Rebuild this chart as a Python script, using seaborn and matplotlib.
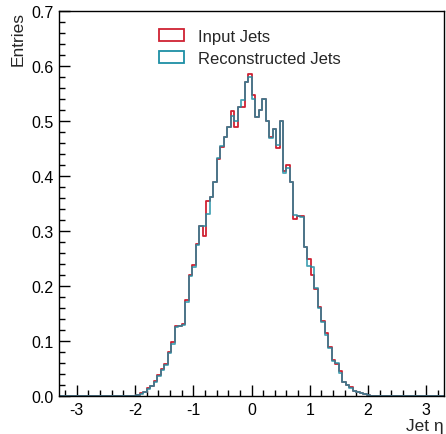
import numpy as np
import pandas as pd
import matplotlib
matplotlib.use("Agg")
import matplotlib.pyplot as plt
import seaborn as sns
from matplotlib.patches import Patch
from matplotlib.ticker import MultipleLocator, FormatStrFormatter

# ---- data (bin contents, bins of width 0.06 starting at eta = -2.10) ----
bin_start = -2.10
bin_width = 0.06
x_range = (-3.3, 3.3)

input_jets = [
    0.000, 0.001, 0.002, 0.005, 0.008, 0.015, 0.019, 0.028, 0.038, 0.050,
    0.059, 0.081, 0.098, 0.128, 0.128, 0.131, 0.174, 0.220, 0.238, 0.277,
    0.310, 0.291, 0.355, 0.362, 0.390, 0.432, 0.453, 0.471, 0.489, 0.518,
    0.489, 0.525, 0.525, 0.571, 0.586, 0.548, 0.507, 0.520, 0.540, 0.500,
    0.471, 0.485, 0.452, 0.500, 0.409, 0.420, 0.389, 0.322, 0.327, 0.327,
    0.271, 0.249, 0.220, 0.195, 0.163, 0.136, 0.114, 0.090, 0.065, 0.058,
    0.045, 0.026, 0.020, 0.016, 0.010, 0.008, 0.006, 0.004, 0.002, 0.001,
]
reco_jets = [
    0.000, 0.001, 0.002, 0.004, 0.007, 0.013, 0.018, 0.026, 0.037, 0.047,
    0.057, 0.079, 0.094, 0.126, 0.127, 0.129, 0.172, 0.218, 0.235, 0.275,
    0.310, 0.310, 0.331, 0.362, 0.390, 0.433, 0.454, 0.471, 0.490, 0.510,
    0.500, 0.526, 0.538, 0.572, 0.580, 0.540, 0.507, 0.521, 0.541, 0.500,
    0.470, 0.485, 0.457, 0.500, 0.406, 0.414, 0.389, 0.330, 0.328, 0.326,
    0.272, 0.236, 0.235, 0.196, 0.161, 0.134, 0.112, 0.088, 0.064, 0.060,
    0.043, 0.025, 0.020, 0.015, 0.010, 0.008, 0.005, 0.004, 0.002, 0.001,
]
series_names = ["Input Jets", "Reconstructed Jets"]
series_colors = ["#cf2233", "#1d8fa5"]

# ---- build bins over full axis range ----
edges = np.round(np.arange(x_range[0], x_range[1] + 1e-9, bin_width), 4)
centers = 0.5 * (edges[:-1] + edges[1:])
start_idx = int(round((bin_start - x_range[0]) / bin_width))

def full(vals):
    arr = np.zeros(len(centers))
    arr[start_idx:start_idx + len(vals)] = vals
    return arr

df = pd.DataFrame({
    "eta": np.concatenate([centers, centers]),
    "w": np.concatenate([full(input_jets), full(reco_jets)]),
    "series": [series_names[0]] * len(centers) + [series_names[1]] * len(centers),
})

sns.set_theme(style="ticks")
plt.rcParams["font.family"] = ["Liberation Sans", "DejaVu Sans"]
plt.rcParams["axes.unicode_minus"] = False

fig = plt.figure(figsize=(4.46, 4.35), dpi=100)
ax = fig.add_axes([0.133, 0.087, 0.862, 0.885])

for name, col, alpha in zip(series_names, series_colors, [1.0, 0.8]):
    sub = df[df["series"] == name]
    sns.histplot(data=sub, x="eta", weights="w", bins=[float(e) for e in edges],
                 element="step", fill=False, color=col, linewidth=1.3,
                 alpha=alpha, ax=ax)

ax.set_xlim(*x_range)
ax.set_ylim(0, 0.7)
ax.xaxis.set_major_locator(MultipleLocator(1))
ax.xaxis.set_minor_locator(MultipleLocator(0.2))
ax.yaxis.set_major_locator(MultipleLocator(0.1))
ax.yaxis.set_minor_locator(MultipleLocator(0.02))
ax.yaxis.set_major_formatter(FormatStrFormatter("%.1f"))
ax.tick_params(which="both", direction="in", top=False, right=False,
               labelsize=11.5, colors="black", width=1.0)
ax.tick_params(which="major", length=8, pad=4)
ax.tick_params(which="minor", length=4)
for s in ax.spines.values():
    s.set_linewidth(1.0)
    s.set_color("black")

ax.set_xlabel("Jet η", fontsize=12.5, loc="right", labelpad=1)
ax.set_ylabel("Entries", fontsize=12.5, loc="top", labelpad=4)

handles = [Patch(facecolor="none", edgecolor=c, linewidth=1.3) for c in series_colors]
ax.legend(handles, series_names, loc="upper left", bbox_to_anchor=(0.26, 0.955),
          frameon=False, fontsize=12, handlelength=1.5, handleheight=0.72,
          handletextpad=0.84, labelspacing=0.44, borderpad=0, borderaxespad=0)

fig.savefig("out.png", dpi=100)
